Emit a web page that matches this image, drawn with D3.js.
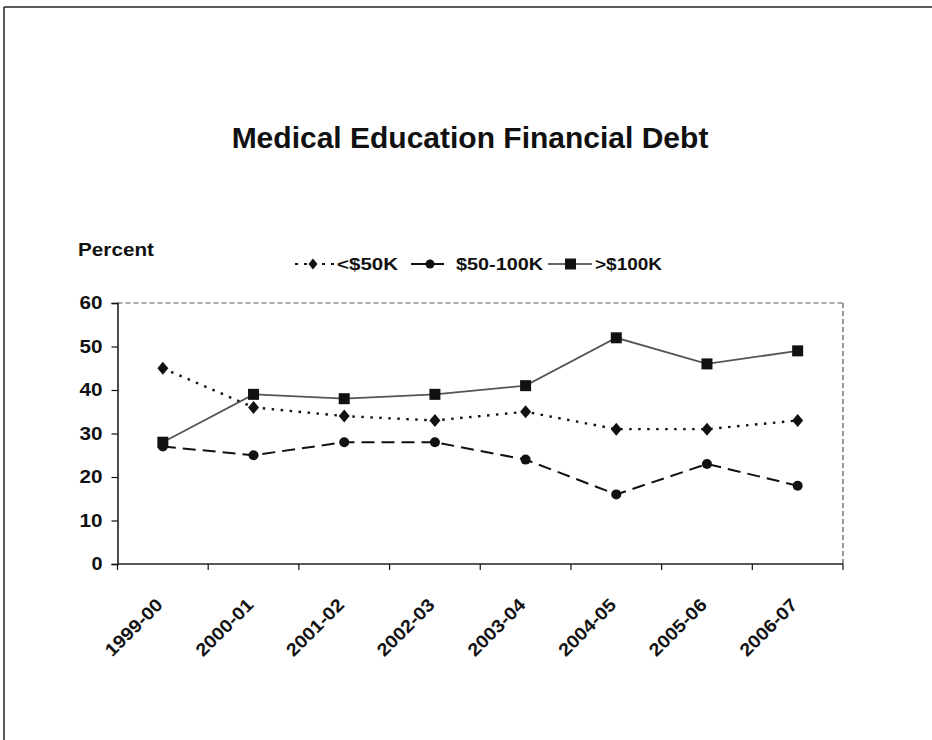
<!DOCTYPE html>
<html><head><meta charset="utf-8">
<script src="https://cdn.jsdelivr.net/npm/d3@7"></script>
<style>
html,body{margin:0;padding:0;background:#fff;}
svg text{font-family:"Liberation Sans",Arial,sans-serif;font-weight:bold;fill:#111;}
</style></head>
<body>
<svg id="chart" width="932" height="740"></svg>
<script>
const categories = ["1999-00","2000-01","2001-02","2002-03","2003-04","2004-05","2005-06","2006-07"];
const under50 = [45, 36, 34, 33, 35, 31, 31, 33];
const mid50to100 = [27, 25, 28, 28, 24, 16, 23, 18];
const over100 = [28, 39, 38, 39, 41, 52, 46, 49];
const yTicks = [0, 10, 20, 30, 40, 50, 60];
const seriesNames = ["<$50K", "$50-100K", ">$100K"];
const titleText = "Medical Education Financial Debt";
const yLabel = "Percent";

const svg = d3.select("#chart");
const pL = 117.5, pR = 843, pT = 303, pB = 564;

// outer frame
svg.append("line").attr("x1",4).attr("y1",7).attr("x2",932).attr("y2",7).attr("stroke","#222").attr("stroke-width",1.5);
svg.append("line").attr("x1",4).attr("y1",7).attr("x2",4).attr("y2",740).attr("stroke","#222").attr("stroke-width",1.5);

const x = d3.scaleBand().domain(categories).range([pL, pR]).padding(0);
const y = d3.scaleLinear().domain([0, 60]).range([pB, pT]);

// title
svg.append("text").attr("x", 470).attr("y", 148).attr("text-anchor","middle")
  .style("font-size","30px").text(titleText);
svg.append("text").attr("x", 78).attr("y", 256).style("font-size","18px")
  .attr("textLength", 76).attr("lengthAdjust","spacingAndGlyphs").text(yLabel);

// plot border top/right dashed
svg.append("line").attr("x1",pL).attr("y1",pT).attr("x2",pR).attr("y2",pT)
  .attr("stroke","#555").attr("stroke-width",1.2).attr("stroke-dasharray","5,3");
svg.append("line").attr("x1",pR).attr("y1",pT).attr("x2",pR).attr("y2",pB)
  .attr("stroke","#555").attr("stroke-width",1.2).attr("stroke-dasharray","5,3");

// y axis
const yAxis = svg.append("g").attr("transform",`translate(${pL},0)`)
  .call(d3.axisLeft(y).tickValues(yTicks).tickSize(6).tickPadding(9));
yAxis.select(".domain").attr("stroke","#111").attr("stroke-width",1.5);
yAxis.selectAll(".tick line").attr("stroke","#111").attr("stroke-width",1.2);
yAxis.selectAll(".tick text").style("font-size","18px").style("font-family","Liberation Sans, Arial, sans-serif")
  .style("font-weight","bold").attr("fill","#111")
  .attr("textLength", d => d === 0 ? 11 : 23).attr("lengthAdjust","spacingAndGlyphs");

// x axis with ticks at band boundaries
const xAxisG = svg.append("g");
xAxisG.append("line").attr("x1",pL).attr("y1",pB).attr("x2",pR).attr("y2",pB)
  .attr("stroke","#222").attr("stroke-width",1.6);
const boundaries = categories.map(c => x(c)).concat([x(categories[categories.length-1]) + x.bandwidth()]);
xAxisG.selectAll("line.tk").data(boundaries).enter().append("line").attr("class","tk")
  .attr("x1",d=>d).attr("x2",d=>d).attr("y1",pB).attr("y2",pB+6)
  .attr("stroke","#111").attr("stroke-width",1.2);
xAxisG.selectAll("text.xl").data(categories).enter().append("text").attr("class","xl")
  .attr("text-anchor","end")
  .attr("transform", d => `translate(${x(d)+x.bandwidth()/2+1},${606}) rotate(-45)`)
  .style("font-size","18px").attr("textLength",73).attr("lengthAdjust","spacingAndGlyphs")
  .text(d => d);

const cx = d => x(d) + x.bandwidth()/2;
const lineGen = vals => d3.line().x((v,i)=>cx(categories[i])).y(v=>y(v))(vals);

// series
svg.append("path").attr("d", lineGen(under50)).attr("fill","none").attr("stroke","#111")
  .attr("stroke-width",2.4).attr("stroke-dasharray","2.5,6.5");
svg.append("path").attr("d", lineGen(mid50to100)).attr("fill","none").attr("stroke","#111")
  .attr("stroke-width",2).attr("stroke-dasharray","13,7");
svg.append("path").attr("d", lineGen(over100)).attr("fill","none").attr("stroke","#555")
  .attr("stroke-width",1.8);

const diamond = "M0,-6.5L5.5,0L0,6.5L-5.5,0Z";
svg.selectAll("path.dm").data(under50).enter().append("path").attr("class","dm")
  .attr("d", diamond).attr("transform",(v,i)=>`translate(${cx(categories[i])},${y(v)})`).attr("fill","#111");
svg.selectAll("circle.ci").data(mid50to100).enter().append("circle").attr("class","ci")
  .attr("cx",(v,i)=>cx(categories[i])).attr("cy",v=>y(v)).attr("r",5).attr("fill","#111");
svg.selectAll("rect.sq").data(over100).enter().append("rect").attr("class","sq")
  .attr("x",(v,i)=>cx(categories[i])-5.5).attr("y",v=>y(v)-5.5).attr("width",11).attr("height",11).attr("fill","#111");

// legend
const ly = 264;
const lg = svg.append("g");
lg.append("line").attr("x1",295).attr("x2",334).attr("y1",ly).attr("y2",ly).attr("stroke","#111")
  .attr("stroke-width",2.2).attr("stroke-dasharray","3,6");
lg.append("path").attr("d","M0,-5.5L4.5,0L0,5.5L-4.5,0Z").attr("transform",`translate(313,${ly})`).attr("fill","#111");
lg.append("text").attr("x",337).attr("y",ly+6).style("font-size","16px")
  .attr("textLength",61).attr("lengthAdjust","spacingAndGlyphs").text(seriesNames[0]);
lg.append("line").attr("x1",411).attr("x2",444).attr("y1",ly).attr("y2",ly).attr("stroke","#111").attr("stroke-width",2);
lg.append("circle").attr("cx",430).attr("cy",ly).attr("r",4.5).attr("fill","#111");
lg.append("text").attr("x",456).attr("y",ly+6).style("font-size","16px")
  .attr("textLength",87).attr("lengthAdjust","spacingAndGlyphs").text(seriesNames[1]);
lg.append("line").attr("x1",548).attr("x2",592).attr("y1",ly).attr("y2",ly).attr("stroke","#333").attr("stroke-width",1.5);
lg.append("rect").attr("x",565).attr("y",ly-5.5).attr("width",11).attr("height",11).attr("fill","#111");
lg.append("text").attr("x",595).attr("y",ly+6).style("font-size","16px")
  .attr("textLength",67).attr("lengthAdjust","spacingAndGlyphs").text(seriesNames[2]);
</script>
</body></html>
